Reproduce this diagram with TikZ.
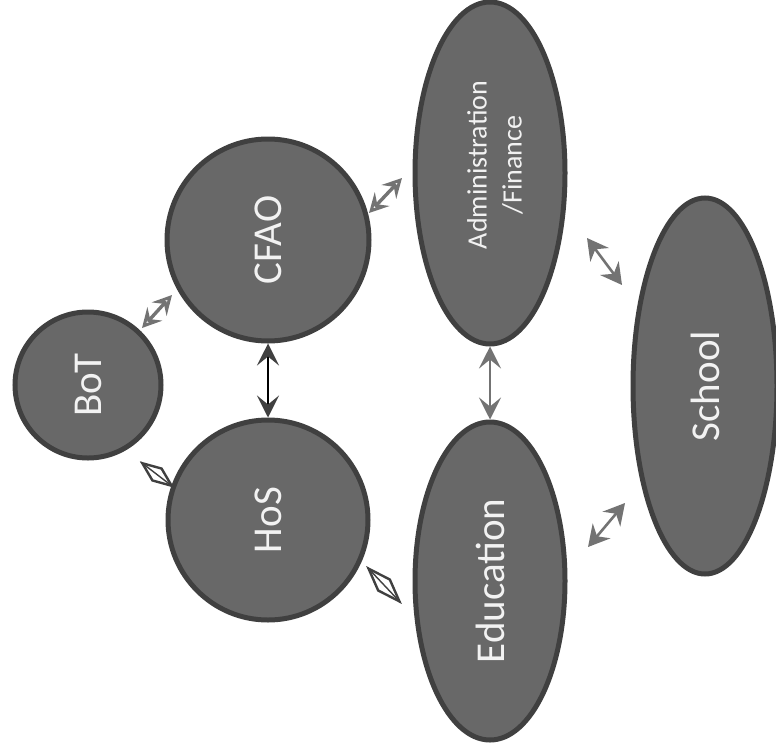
\documentclass[tikz,border=0pt]{standalone}
\usepackage{fontspec}
\setmainfont{Carlito}
\usetikzlibrary{shapes.geometric,arrows.meta}
\definecolor{blobfill}{HTML}{686868}
\definecolor{blobline}{HTML}{404040}
\definecolor{arrgray}{HTML}{737373}
\definecolor{lbltext}{HTML}{F2F2F2}
\tikzset{
  blob/.style={fill=blobfill, draw=blobline, line width=5pt, text=lbltext, inner sep=0pt},
  circ/.style={blob, circle, minimum size=#1},
  ell/.style={blob, ellipse},
  lbl/.style={text=lbltext, font=\fontsize{41}{44}\selectfont, rotate=90},
  grayfilled/.style={draw=arrgray, line width=2.6pt,
     {Stealth[length=21pt,width=23pt,inset=7pt]}-{Stealth[length=21pt,width=23pt,inset=7pt]}},
  grayopen/.style={draw=arrgray, line width=3.4pt,
     {Stealth[open,length=19pt,width=20pt,inset=7pt]}-{Stealth[open,length=19pt,width=20pt,inset=7pt]}},
  vlink/.style={draw=#1, line width=1.6pt,
     {Stealth[length=22pt,width=22pt,inset=9pt]}-{Stealth[length=22pt,width=22pt,inset=9pt]}},
  darkvlink/.style={draw=black, line width=1.6pt,
     {Stealth[length=22pt,width=22pt,inset=9pt,color=blobline]}-{Stealth[length=22pt,width=22pt,inset=9pt,color=blobline]}},
  diam/.style={diamond, draw=blobline, line width=2.4pt, fill=white, inner sep=0pt, aspect=2.5},
}
\begin{document}
\begin{tikzpicture}[x=1pt,y=-1pt]
\useasboundingbox (0,0) rectangle (776,747);
% nodes
\node[circ=146pt] (bot) at (88,385) {};
\node[lbl] at (bot) {BoT};
\node[circ=202pt] (cfao) at (268,240) {};
\node[lbl] at (cfao) {CFAO};
\node[circ=200pt] (hos) at (268,520) {};
\node[lbl] at (hos) {HoS};
\node[ell, minimum width=150pt, minimum height=342pt] (adm) at (490,173) {};
\node[rotate=90, align=center, text=lbltext, font=\fontsize{28}{35}\selectfont] at ([xshift=5pt,yshift=8pt]adm) {Administration\\/Finance};
\node[ell, minimum width=150pt, minimum height=318pt] (edu) at (490,581) {};
\node[lbl] at (edu) {Education};
\node[ell, minimum width=144pt, minimum height=376pt] (sch) at (705,386) {};
\node[lbl] at (sch) {School};
% free ends of the diagonal arrows
\coordinate (a1) at (142,328); \coordinate (b1) at (172,295);
\coordinate (a2) at (369,213); \coordinate (b2) at (402,178);
\coordinate (a3) at (587,238); \coordinate (b3) at (622,285);
\coordinate (a4) at (588,547); \coordinate (b4) at (625,503);
% connectors
\draw[grayopen] (a1) -- (b1);
\draw[grayopen] (a2) -- (b2);
\draw[grayfilled] (a3) -- (b3);
\draw[grayfilled] (a4) -- (b4);
\draw[darkvlink] (cfao.south) -- (hos.north);
\draw[vlink=arrgray, line width=2.8pt] (adm.south) -- (edu.north);
% diamond links
\node[diam, rotate=-37.5, minimum width=38pt, minimum height=16pt] (dm1) at (157,474.5) {};
\draw[blobline, line width=1.4pt] (dm1.west) -- (dm1.east);
\node[diam, rotate=-46.7, minimum width=46pt, minimum height=17pt] (dm2) at (384,585) {};
\draw[blobline, line width=1.4pt] (dm2.west) -- (dm2.east);
\end{tikzpicture}
\end{document}
